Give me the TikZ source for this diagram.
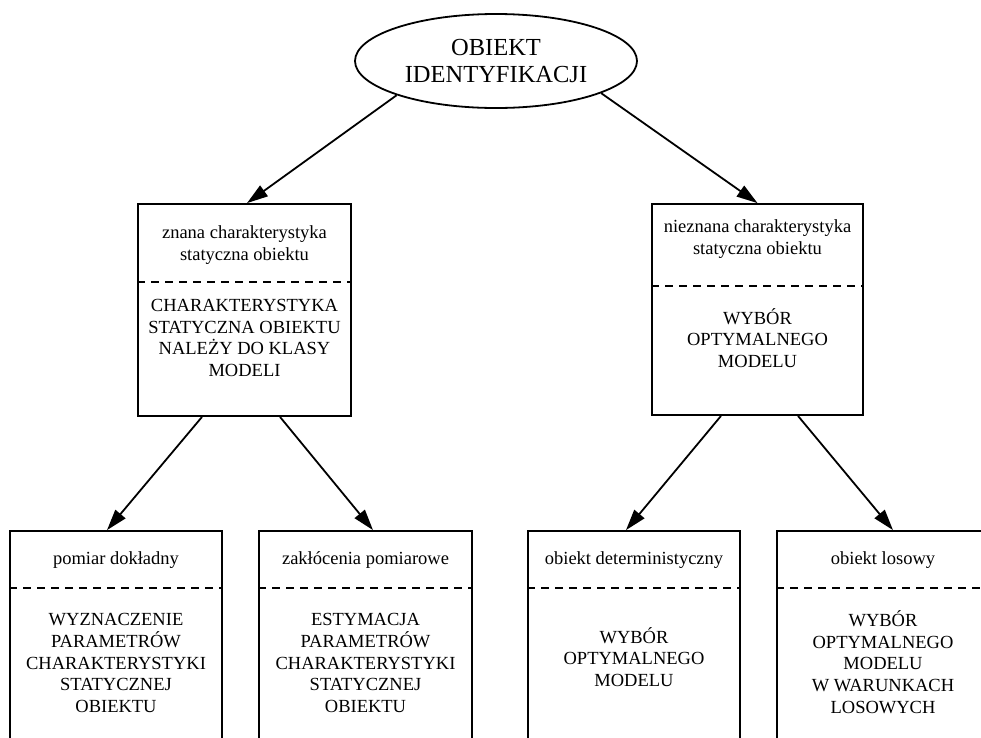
\documentclass[tikz,border=0pt]{standalone}
\usepackage{fontspec}
\setmainfont{Liberation Serif}
\usetikzlibrary{arrows.meta,calc,shapes.geometric}
\begin{document}
\begin{tikzpicture}[x=1pt,y=-1pt,
  frame/.style={draw,line width=1.8pt,inner sep=0pt},
  divider/.style={line width=1.6pt,dash pattern=on 8pt off 6pt},
  lbl/.style={align=center,inner sep=0pt,font=\fontsize{18.5}{21.7}\selectfont},
  link/.style={line width=1.8pt,-{Triangle[length=21pt,width=13pt]}}]
\useasboundingbox (0,0) rectangle (981,737);
\clip (0,0) rectangle (981,737);

% root
\node[ellipse,draw,line width=1.8pt,minimum width=282pt,minimum height=94pt,
      inner sep=0pt,align=center,font=\fontsize{24.5}{27}\selectfont]
      (obj) at (496,61) {OBIEKT\\IDENTYFIKACJI};

% second level
\node[frame,minimum width=213pt,minimum height=212pt] (known) at (244.5,310) {};
\node[frame,minimum width=211pt,minimum height=211pt] (unknown) at (757.5,309.5) {};
\draw[divider] (known.west |- 0,282) -- (known.east |- 0,282);
\draw[divider] (unknown.west |- 0,286) -- (unknown.east |- 0,286);
\node[lbl] (knownhead) at (244.5,245) {znana charakterystyka\\statyczna obiektu};
\node[lbl] (knownbody) at (244.5,338) {CHARAKTERYSTYKA\\STATYCZNA OBIEKTU\\NALEŻY DO KLASY\\MODELI};
\node[lbl] (unknownhead) at (757.5,239) {nieznana charakterystyka\\statyczna obiektu};
\node[lbl] (unknownbody) at (757.5,338) {WYBÓR\\OPTYMALNEGO\\MODELU};

% third level (boxes run on past the lower edge)
\node[frame,minimum width=212pt,minimum height=300pt] (exact) at (116,681) {};
\node[frame,minimum width=213pt,minimum height=300pt] (noisy) at (365.5,681) {};
\node[frame,minimum width=212pt,minimum height=300pt] (determ) at (634,681) {};
\node[frame,minimum width=212pt,minimum height=300pt] (random) at (883,681) {};
\foreach \b in {exact,noisy,determ,random}
  \draw[divider] (\b.west |- 0,588) -- (\b.east |- 0,588);
\node[lbl] (exacthead) at (116,560) {pomiar dokładny};
\node[lbl] (noisyhead) at (365.5,560) {zakłócenia pomiarowe};
\node[lbl] (determhead) at (634,560) {obiekt deterministyczny};
\node[lbl] (randomhead) at (883,560) {obiekt losowy};
\node[lbl] (exactbody) at (116,663) {WYZNACZENIE\\PARAMETRÓW\\CHARAKTERYSTYKI\\STATYCZNEJ\\OBIEKTU};
\node[lbl] (noisybody) at (365.5,663) {ESTYMACJA\\PARAMETRÓW\\CHARAKTERYSTYKI\\STATYCZNEJ\\OBIEKTU};
\node[lbl] (determbody) at (634,657) {WYBÓR\\OPTYMALNEGO\\MODELU};
\node[lbl] (randombody) at (883,662) {WYBÓR\\OPTYMALNEGO\\MODELU\\W WARUNKACH\\LOSOWYCH};

% connectors
\draw[link] (obj.199) -- ($(known.north)+(2.5,0)$);
\draw[link] (obj.-17) -- (unknown.north);
\draw[link] ($(known.south)+(-42.5,0)$) -- ($(exact.north)+(-9,0)$);
\draw[link] ($(known.south)+(35.5,0)$) -- ($(noisy.north)+(7.5,0)$);
\draw[link] ($(unknown.south)+(-36.5,0)$) -- ($(determ.north)+(-8,0)$);
\draw[link] ($(unknown.south)+(40.5,0)$) -- ($(random.north)+(10,0)$);
\end{tikzpicture}
\end{document}
